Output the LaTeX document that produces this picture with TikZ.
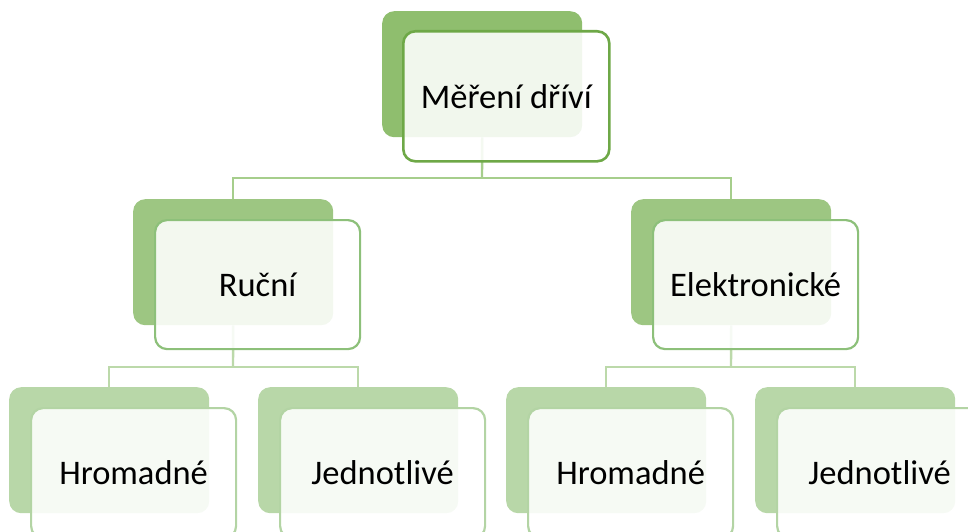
\documentclass[tikz,border=0pt]{standalone}
\usepackage{fontspec}
\setmainfont{Carlito}
\usetikzlibrary{calc}
\definecolor{backA}{HTML}{8FBE6E}
\definecolor{backB}{HTML}{9DC682}
\definecolor{backC}{HTML}{B8D7A8}
\definecolor{lineA}{HTML}{6EA847}
\definecolor{lineB}{HTML}{8DC07A}
\definecolor{lineC}{HTML}{B3D4A4}
\definecolor{connA}{HTML}{A6CE8C}
\definecolor{connB}{HTML}{BCD9AA}
\tikzset{
  backbox/.style={draw=none, rounded corners=12pt, minimum width=200pt, minimum height=126pt, inner sep=0pt, anchor=north west},
  frontbox/.style={rounded corners=12pt, minimum width=205pt, minimum height=129pt, inner sep=0pt, anchor=north west,
     fill=white, fill opacity=0.88, text opacity=1, line width=2.2pt, font=\fontsize{34.5}{40}\selectfont},
  conn/.style={line width=2.4pt},
}
\begin{document}
\begin{tikzpicture}[x=1pt,y=-1pt]
\useasboundingbox (0,0) rectangle (968,532);
% back boxes
\node[backbox, fill=backA] (tb) at (382,11) {};
\node[backbox, fill=backB] (rb) at (133,199) {};
\node[backbox, fill=backB] (eb) at (631,199) {};
\node[backbox, fill=backC] (h1b) at (9,387) {};
\node[backbox, fill=backC] (j1b) at (258,387) {};
\node[backbox, fill=backC] (h2b) at (506,387) {};
\node[backbox, fill=backC] (j2b) at (755,387) {};
% junction coordinates
\coordinate (ja) at (482,178);
\coordinate (jb) at (233,367);
\coordinate (jc) at (731,367);
% connectors
\draw[conn, connA] (tb.south) -- (ja);
\draw[conn, connA] (rb.north) |- (ja) -| (eb.north);
\draw[conn, connB] (rb.south) -- (jb);
\draw[conn, connB] (h1b.north) |- (jb) -| (j1b.north);
\draw[conn, connB] (eb.south) -- (jc);
\draw[conn, connB] (h2b.north) |- (jc) -| (j2b.north);
% front boxes
\node[frontbox, draw=lineA, line width=2.6pt, minimum width=206pt, minimum height=130pt] (t) at (402,30) {Měření dříví};
\node[frontbox, draw=lineB] (r) at (154,219) {Ruční};
\node[frontbox, draw=lineB] (e) at (652,219) {Elektronické};
\node[frontbox, draw=lineC, minimum height=130pt] (h1) at (30,407) {Hromadné};
\node[frontbox, draw=lineC, minimum height=130pt] (j1) at (279,407) {Jednotlivé};
\node[frontbox, draw=lineC, minimum height=130pt] (h2) at (527,407) {Hromadné};
\node[frontbox, draw=lineC, minimum height=130pt] (j2) at (776,407) {Jednotlivé};
\end{tikzpicture}
\end{document}
